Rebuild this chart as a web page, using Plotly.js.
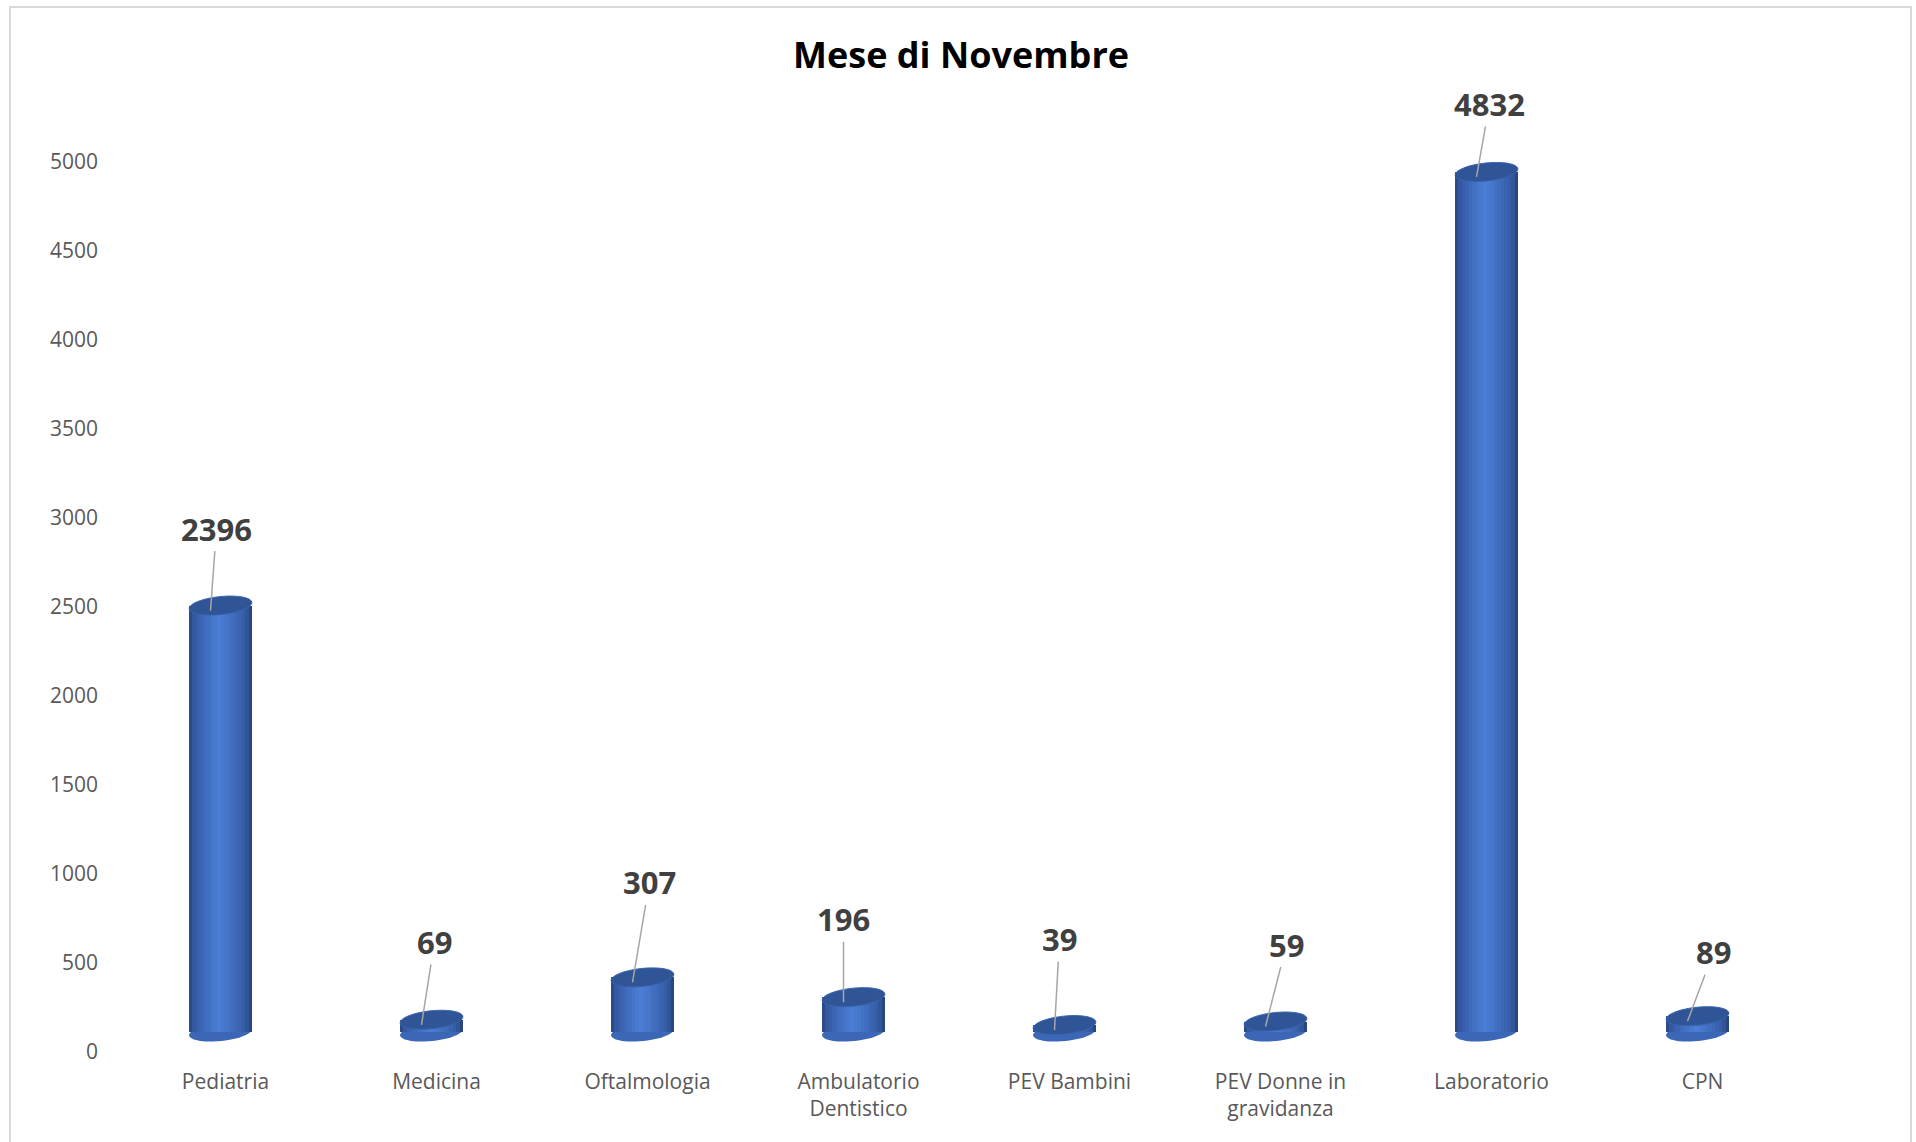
<!DOCTYPE html>
<html>
<head>
<meta charset="utf-8">
<script src="https://cdn.plot.ly/plotly-3.0.1.min.js"></script>
<style>
  html, body { margin: 0; padding: 0; background: #ffffff; }
  #chart { width: 1916px; height: 1142px; position: relative; }
  #frame { position: absolute; left: 9px; top: 6px; width: 1903px; height: 1150px;
           border: 2px solid #D9D9D9; box-sizing: border-box; pointer-events: none; z-index: 5; }
</style>
</head>
<body>
<div id="chart"></div>
<div id="frame"></div>
<script>
// ---- data ----
const categories = ['Pediatria', 'Medicina', 'Oftalmologia', 'Ambulatorio<br>Dentistico',
                    'PEV Bambini', 'PEV Donne in<br>gravidanza', 'Laboratorio', 'CPN'];
const values = [2396, 69, 307, 196, 39, 59, 4832, 89];
const titleText = 'Mese di Novembre';
const yTicks = [0, 500, 1000, 1500, 2000, 2500, 3000, 3500, 4000, 4500, 5000];

// ---- label placement (pixel offsets of each data label from its bar top) ----
const labelAx = [6, 13, 17, 0, 5, 21, 13, 26];
const labelAy = [-82, -83, -100, -83, -91, -82, -73, -69];

// ---- cylinder styling ----
const barWidth = 0.30;
const nStrips = 18;
const gradStops = [
  [0.00, [38, 66, 120]],
  [0.07, [50, 86, 158]],
  [0.20, [59, 102, 181]],
  [0.35, [68, 116, 200]],
  [0.47, [74, 125, 211]],
  [0.58, [70, 119, 203]],
  [0.72, [63, 107, 187]],
  [0.86, [54, 94, 168]],
  [0.95, [45, 79, 142]],
  [1.00, [35, 60, 106]]
];
function gradColor(t) {
  for (let k = 1; k < gradStops.length; k++) {
    if (t <= gradStops[k][0]) {
      const [t0, c0] = gradStops[k - 1], [t1, c1] = gradStops[k];
      const f = (t - t0) / (t1 - t0);
      const c = c0.map((v, j) => Math.round(v + (c1[j] - v) * f));
      return 'rgb(' + c.join(',') + ')';
    }
  }
  return 'rgb(' + gradStops[gradStops.length - 1][1].join(',') + ')';
}

const traces = [];
// invisible trace that anchors the visible value axis (y)
traces.push({
  type: 'scatter', mode: 'markers', x: categories, y: values, yaxis: 'y',
  marker: { opacity: 0, size: 1 }, hoverinfo: 'skip', showlegend: false
});
for (let k = 0; k < nStrips; k++) {
  const sw = barWidth / nStrips;
  const last = (k === nStrips - 1);
  traces.push({
    type: 'bar',
    x: categories,
    y: values,
    yaxis: 'y2',
    offset: -barWidth / 2 + k * sw,
    width: last ? sw : sw * 1.35,
    marker: { color: gradColor((k + 0.5) / nStrips), line: { width: 0 } },
    hoverinfo: 'skip',
    showlegend: false
  });
}

// ellipse path (pixel coords relative to anchor, y up)
function ellipsePath(a, b, deg) {
  const th = deg * Math.PI / 180;
  const pts = [];
  const n = 48;
  for (let i = 0; i < n; i++) {
    const p = 2 * Math.PI * i / n;
    const x = a * Math.cos(p), y = b * Math.sin(p);
    const xr = x * Math.cos(th) - y * Math.sin(th);
    const yr = x * Math.sin(th) + y * Math.cos(th);
    pts.push(xr.toFixed(2) + ',' + yr.toFixed(2));
  }
  return 'M' + pts.join('L') + 'Z';
}
const ellA = 31.5, ellB = 9, ellTilt = 6;

const shapes = [];
values.forEach((v, i) => {
  shapes.push({
    type: 'path', xref: 'x', yref: 'y2', xsizemode: 'pixel', ysizemode: 'pixel',
    xanchor: i, yanchor: 0, path: ellipsePath(ellA, ellB, ellTilt),
    fillcolor: '#3B67B6', line: { width: 0 }, layer: 'below'
  });
  shapes.push({
    type: 'path', xref: 'x', yref: 'y2', xsizemode: 'pixel', ysizemode: 'pixel',
    xanchor: i, yanchor: v, path: ellipsePath(ellA, ellB, ellTilt),
    fillcolor: '#2F5597', line: { width: 1, color: '#3A64AE' }, layer: 'above'
  });
});

const annotations = values.map((v, i) => ({
  x: i, y: v, xref: 'x', yref: 'y2',
  text: String(v),
  showarrow: true, arrowhead: 0, arrowwidth: 1.5, arrowcolor: '#A6A6A6',
  ax: labelAx[i], ay: labelAy[i], standoff: 0,
  xshift: -10, yshift: -5,
  font: { family: 'Open Sans, sans-serif', size: 31, color: '#404040', weight: 700 }
}));

const layout = {
  width: 1916, height: 1142,
  margin: { l: 115, r: 113, t: 162, b: 90 },
  paper_bgcolor: '#ffffff', plot_bgcolor: '#ffffff',
  barmode: 'overlay',
  bargap: 0,
  title: {
    text: titleText, xref: 'container', yref: 'container',
    x: 0.5016, y: 1 - 55 / 1142, xanchor: 'center', yanchor: 'middle',
    font: { family: 'Open Sans, sans-serif', size: 36, color: '#000000', weight: 700 }
  },
  xaxis: {
    type: 'category', range: [-0.5, 7.5],
    showgrid: false, zeroline: false, showline: false, ticks: '',
    ticklabelstandoff: 15, ticklabelshift: 5,
    tickfont: { family: 'Open Sans, sans-serif', size: 21, color: '#595959' }
  },
  yaxis: {
    range: [0, 5000], tickvals: yTicks, ticktext: yTicks.map(String),
    showgrid: false, zeroline: false, showline: false, ticks: '',
    ticklabelstandoff: 16,
    tickfont: { family: 'Open Sans, sans-serif', size: 21, color: '#595959' }
  },
  yaxis2: {
    overlaying: 'y', range: [-112, 4888], visible: false,
    showgrid: false, zeroline: false
  },
  shapes: shapes,
  annotations: annotations,
  showlegend: false
};

Plotly.newPlot('chart', traces, layout, { displayModeBar: false, staticPlot: true });
</script>
</body>
</html>
